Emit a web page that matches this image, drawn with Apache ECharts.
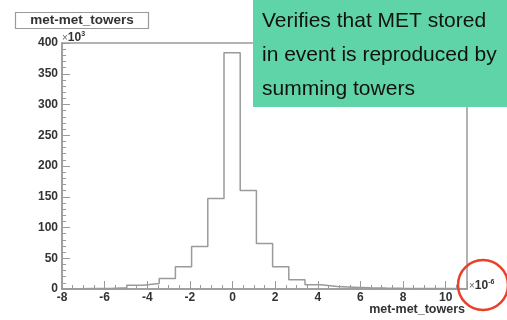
<!DOCTYPE html>
<html>
<head>
<meta charset="utf-8">
<script src="https://cdn.jsdelivr.net/npm/echarts@6/dist/echarts.min.js"></script>
<style>
  html, body { margin: 0; padding: 0; background: #fff; }
  #chart { width: 507px; height: 320px; }
</style>
</head>
<body>
<div id="chart"></div>
<script>
// Histogram of met - met_towers (x in units of 1e-6, counts in units of 1e3)
const xMin = -8;
const xMax = 11;
const nBins = 25;
const binCounts = [
  0.5, 1, 1, 2, 6, 9, 17, 36, 69, 147,
  384, 160, 74, 36, 15, 7, 4, 3, 2, 1.5,
  1.2, 1, 1, 1, 0.5
];
const yTicks = [0, 50, 100, 150, 200, 250, 300, 350, 400];
const xTicks = [-8, -6, -4, -2, 0, 2, 4, 6, 8, 10];
const histTitle = 'met-met_towers';
const noteLines = ['Verifies that MET stored', 'in event is reproduced by', 'summing towers'];

// Step outline: each point is the right edge of a bin at that bin's height
const binWidth = (xMax - xMin) / nBins;
const outline = [[xMin, 0]];
binCounts.forEach((c, i) => outline.push([xMin + (i + 1) * binWidth, c]));

const axisFont = { fontFamily: 'Liberation Sans', fontWeight: 'bold', fontSize: 12, color: '#333' };
const gray = '#9a9a9a';

const chart = echarts.init(document.getElementById('chart'), null, { renderer: 'canvas' });
chart.setOption({
  animation: false,
  grid: {
    left: 62, top: 43, width: 405, height: 246,
    show: true, borderColor: gray, borderWidth: 1.5, backgroundColor: 'transparent'
  },
  xAxis: {
    type: 'value', min: xMin, max: xMax, interval: 2,
    axisLine: { onZero: false, lineStyle: { color: gray, width: 1.5 } },
    axisTick: { inside: true, length: 8, lineStyle: { color: gray, width: 1 } },
    minorTick: { show: true, splitNumber: 4, length: 4, lineStyle: { color: gray, width: 1 } },
    splitLine: { show: false },
    axisLabel: Object.assign({ margin: 3, showMaxLabel: false,
      formatter: v => xTicks.includes(v) ? String(v) : '' }, axisFont)
  },
  yAxis: {
    type: 'value', min: 0, max: 400, interval: 50,
    axisLine: { show: true, onZero: false, lineStyle: { color: gray, width: 1.5 } },
    axisTick: { show: true, inside: true, length: 8, lineStyle: { color: gray, width: 1 } },
    minorTick: { show: true, splitNumber: 5, length: 4, lineStyle: { color: gray, width: 1 } },
    splitLine: { show: false },
    axisLabel: Object.assign({ margin: 4,
      formatter: v => yTicks.includes(v) ? String(v) : '' }, axisFont)
  },
  series: [{
    type: 'line',
    step: 'start',
    data: outline,
    symbol: 'none',
    lineStyle: { color: gray, width: 1.5 },
    z: 3
  }],
  graphic: [
    // histogram title box
    { type: 'rect', shape: { x: 15.5, y: 12.5, width: 133, height: 16 },
      style: { fill: '#fff', stroke: gray, lineWidth: 1.2 }, z: 10 },
    { type: 'text', x: 82, y: 20.5,
      style: { text: histTitle, fill: '#333', font: 'bold 13.5px "Liberation Sans"',
        textAlign: 'center', textVerticalAlign: 'middle' }, z: 11 },
    // y exponent
    { type: 'text', x: 62, y: 38,
      style: { text: '{m|×}{b|10}{s|3}', textVerticalAlign: 'middle',
        rich: {
          m: { fontSize: 10, fill: '#666', fontFamily: 'Liberation Sans' },
          b: { fontSize: 12, fontWeight: 'bold', fill: '#333', fontFamily: 'Liberation Sans' },
          s: { fontSize: 7, fontWeight: 'bold', fill: '#333', fontFamily: 'Liberation Sans', padding: [0, 0, 8, 0] }
        } }, z: 11 },
    // x exponent
    { type: 'text', x: 469, y: 286,
      style: { text: '{m|×}{b|10}{s|-6}', textVerticalAlign: 'middle',
        rich: {
          m: { fontSize: 10, fill: '#666', fontFamily: 'Liberation Sans' },
          b: { fontSize: 12, fontWeight: 'bold', fill: '#333', fontFamily: 'Liberation Sans' },
          s: { fontSize: 7, fontWeight: 'bold', fill: '#333', fontFamily: 'Liberation Sans', padding: [0, 0, 8, 0] }
        } }, z: 11 },
    // x axis title
    { type: 'text', x: 465, y: 310,
      style: { text: histTitle, fill: '#333', font: 'bold 12.5px "Liberation Sans"',
        textAlign: 'right', textVerticalAlign: 'middle' }, z: 11 },
    // annotation box
    { type: 'rect', shape: { x: 253, y: 0, width: 254, height: 107 },
      style: { fill: '#5fd4a9' }, z: 20 },
    ...noteLines.map((t, i) => ({
      type: 'text', x: 262, y: 21 + i * 34,
      style: { text: t, fill: '#111', font: '21px "Liberation Sans"',
        textAlign: 'left', textVerticalAlign: 'middle' }, z: 21
    })),
    // highlight ring around the x exponent
    { type: 'circle', shape: { cx: 483, cy: 285, r: 25 },
      style: { fill: 'none', stroke: '#e8402a', lineWidth: 2.5 }, z: 22 }
  ]
});
</script>
</body>
</html>
